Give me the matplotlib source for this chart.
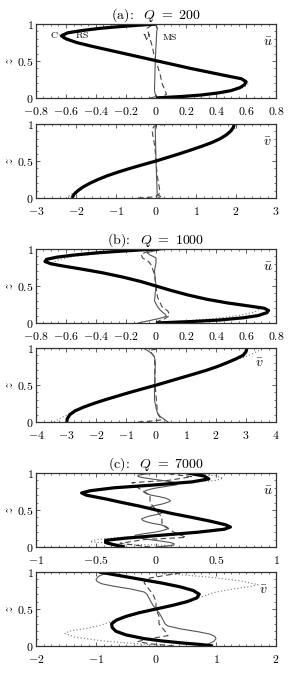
import matplotlib
matplotlib.use("Agg")
import matplotlib.pyplot as plt
from matplotlib.ticker import MultipleLocator, FuncFormatter

plt.rcParams['mathtext.fontset'] = 'cm'
plt.rcParams['font.family'] = ['DejaVu Serif']

# ---------------- Panel (a): Q = 200 ----------------
a_u_C_z = [0.00, 0.01, 0.02, 0.04, 0.07, 0.10, 0.14, 0.18, 0.22, 0.26, 0.30, 0.35, 0.40, 0.45, 0.50,
           0.55, 0.60, 0.65, 0.70, 0.75, 0.80, 0.84, 0.88, 0.91, 0.94, 0.96, 0.98, 1.00]
a_u_C = [0.00, 0.08, 0.17, 0.30, 0.42, 0.50, 0.56, 0.59, 0.60, 0.57, 0.47, 0.35, 0.23, 0.12, 0.01,
         -0.10, -0.21, -0.32, -0.43, -0.53, -0.60, -0.63, -0.59, -0.50, -0.38, -0.27, -0.14, 0.00]
a_u_RS_z = [0.00, 0.02, 0.05, 0.10, 0.15, 0.20, 0.25, 0.30, 0.40, 0.50, 0.60, 0.70, 0.75, 0.80,
            0.85, 0.90, 0.95, 1.00]
a_u_RS = [0.00, 0.15, 0.38, 0.52, 0.59, 0.62, 0.59, 0.48, 0.24, 0.01, -0.21, -0.44, -0.54, -0.62,
          -0.65, -0.58, -0.33, 0.00]
a_u_V_z = [0.00, 0.02, 0.05, 0.10, 0.20, 0.30, 0.40, 0.50, 0.60, 0.70, 0.80, 0.88, 0.94, 0.97, 1.00]
a_u_V = [0.00, 0.04, 0.07, 0.06, 0.04, 0.03, 0.015, 0.00, -0.015, -0.025, -0.04, -0.05, -0.06, -0.04, 0.00]
a_u_MS_z = [0.00, 0.02, 0.05, 0.10, 0.50, 0.90, 0.95, 0.98, 1.00]
a_u_MS = [-0.04, 0.00, -0.005, -0.01, -0.005, 0.005, 0.01, 0.00, -0.05]

a_v_C_z = [0.00, 0.05, 0.10, 0.15, 0.20, 0.25, 0.30, 0.35, 0.40, 0.45, 0.50,
           0.55, 0.60, 0.65, 0.70, 0.75, 0.80, 0.85, 0.90, 0.95, 1.00]
a_v_C = [-2.10, -2.05, -1.95, -1.82, -1.65, -1.45, -1.22, -0.95, -0.65, -0.33, 0.00,
         0.30, 0.60, 0.88, 1.15, 1.40, 1.60, 1.75, 1.86, 1.93, 1.96]
a_v_RS_z = [0.00, 0.05, 0.10, 0.20, 0.30, 0.50, 0.70, 0.80, 0.90, 0.95, 1.00]
a_v_RS = [-2.25, -2.12, -1.97, -1.66, -1.22, 0.00, 1.15, 1.61, 1.90, 1.99, 2.05]
a_v_V_z = [0.00, 0.01, 0.03, 0.08, 0.15, 0.30, 0.50, 0.70, 0.85, 0.92, 0.97, 0.99, 1.00]
a_v_V = [-0.45, -0.15, 0.05, 0.10, 0.08, 0.03, 0.00, -0.03, -0.08, -0.10, -0.05, 0.15, 0.50]
a_v_MS_z = [0.00, 0.02, 0.05, 0.50, 0.97, 1.00]
a_v_MS = [0.05, 0.12, 0.03, 0.00, -0.02, 0.00]

# ---------------- Panel (b): Q = 1000 ----------------
b_u_C_z = [0.00, 0.01, 0.02, 0.04, 0.07, 0.10, 0.14, 0.17, 0.20, 0.23, 0.27, 0.32, 0.38, 0.44, 0.50,
           0.56, 0.62, 0.68, 0.73, 0.77, 0.80, 0.83, 0.86, 0.89, 0.92, 0.95, 0.97, 0.99, 1.00]
b_u_C = [0.00, 0.12, 0.24, 0.42, 0.58, 0.68, 0.74, 0.75, 0.72, 0.62, 0.48, 0.34, 0.21, 0.10, 0.00,
         -0.10, -0.22, -0.36, -0.50, -0.62, -0.70, -0.74, -0.73, -0.66, -0.54, -0.38, -0.24, -0.08, 0.02]
b_u_RS_z = [0.00, 0.03, 0.06, 0.10, 0.15, 0.19, 0.23, 0.28, 0.35, 0.42, 0.50, 0.58, 0.65, 0.72,
            0.77, 0.81, 0.85, 0.90, 0.94, 0.97, 1.00]
b_u_RS = [0.00, 0.20, 0.38, 0.55, 0.66, 0.69, 0.62, 0.47, 0.28, 0.13, 0.00, -0.13, -0.28, -0.47,
          -0.62, -0.69, -0.66, -0.55, -0.38, -0.20, 0.00]
b_u_V_z = [0.00, 0.03, 0.06, 0.10, 0.16, 0.22, 0.35, 0.50, 0.65, 0.78, 0.83, 0.88, 0.93, 0.97, 1.00]
b_u_V = [0.00, 0.02, 0.06, 0.09, 0.08, 0.04, 0.01, 0.00, -0.01, -0.03, -0.05, -0.09, -0.10, -0.05, 0.00]
b_u_MS_z = [0.00, 0.03, 0.06, 0.09, 0.12, 0.17, 0.22, 0.30, 0.50, 0.70, 0.82, 0.88, 0.92, 0.95, 0.98, 1.00]
b_u_MS = [-0.12, -0.05, 0.02, 0.07, 0.06, 0.03, 0.01, -0.01, 0.00, -0.01, 0.00, 0.00, -0.04, -0.06, 0.00, 0.08]

b_v_C_z = [0.00, 0.05, 0.10, 0.15, 0.20, 0.25, 0.30, 0.35, 0.40, 0.45, 0.50,
           0.55, 0.60, 0.65, 0.70, 0.75, 0.80, 0.85, 0.90, 0.95, 1.00]
b_v_C = [-2.98, -2.95, -2.87, -2.70, -2.42, -2.08, -1.70, -1.29, -0.87, -0.43, 0.02,
         0.44, 0.86, 1.28, 1.69, 2.05, 2.36, 2.65, 2.90, 3.00, 3.03]
b_v_RS_z = [0.00, 0.05, 0.10, 0.15, 0.20, 0.25, 0.50, 0.75, 0.85, 0.90, 0.95, 1.00]
b_v_RS = [-3.40, -3.20, -2.95, -2.72, -2.45, -2.08, 0.02, 2.05, 2.75, 3.10, 3.35, 3.60]
b_v_V_z = [0.00, 0.01, 0.03, 0.07, 0.12, 0.50, 0.88, 0.93, 0.97, 0.99, 1.00]
b_v_V = [-0.60, -0.20, 0.20, 0.12, 0.05, -0.03, -0.05, -0.15, -0.20, 0.10, 0.50]
b_v_MS_z = [0.00, 0.03, 0.07, 0.12, 0.20, 0.30, 0.50, 0.60, 0.80, 0.88, 0.93, 0.97, 1.00]
b_v_MS = [0.40, 0.30, 0.15, 0.05, 0.00, -0.05, -0.05, -0.04, -0.02, -0.05, -0.15, -0.30, -0.45]

# ---------------- Panel (c): Q = 7000 ----------------
c_u_C_z = [0.00, 0.03, 0.06, 0.09, 0.12, 0.16, 0.20, 0.24, 0.27, 0.30, 0.35, 0.40, 0.45, 0.50,
           0.55, 0.60, 0.65, 0.70, 0.73, 0.76, 0.80, 0.84, 0.88, 0.92, 0.96, 1.00]
c_u_C = [-0.26, -0.35, -0.42, -0.42, -0.25, 0.05, 0.35, 0.57, 0.62, 0.58, 0.45, 0.30, 0.14, 0.00,
         -0.13, -0.28, -0.42, -0.58, -0.62, -0.55, -0.35, 0.00, 0.30, 0.44, 0.40, 0.26]
c_u_RS_z = [0.00, 0.02, 0.04, 0.07, 0.10, 0.13, 0.16, 0.20, 0.27, 0.35, 0.50, 0.65, 0.73, 0.80,
            0.84, 0.87, 0.90, 0.93, 0.96, 1.00]
c_u_RS = [0.00, 0.15, -0.30, -0.55, -0.50, -0.30, 0.00, 0.33, 0.62, 0.45, 0.00, -0.42, -0.62, -0.35,
          0.00, 0.30, 0.50, 0.56, 0.50, 0.30]
c_u_V_z = [0.00, 0.05, 0.10, 0.13, 0.20, 0.30, 0.40, 0.50, 0.60, 0.70, 0.80, 0.87, 0.90, 0.95, 1.00]
c_u_V = [-0.05, -0.30, -0.10, 0.25, 0.15, 0.05, 0.05, 0.00, -0.05, -0.05, -0.15, -0.20, 0.10, 0.30, 0.05]
c_u_MS_z = [0.00, 0.015, 0.03, 0.045, 0.06, 0.08, 0.10, 0.12, 0.14, 0.16, 0.18, 0.20, 0.22, 0.24,
            0.26, 0.28, 0.30, 0.32, 0.34, 0.36, 0.38, 0.40, 0.42, 0.44, 0.46, 0.48, 0.50,
            0.52, 0.54, 0.56, 0.58, 0.60, 0.62, 0.64, 0.66, 0.68, 0.70, 0.72, 0.74, 0.76,
            0.78, 0.80, 0.82, 0.84, 0.86, 0.88, 0.90, 0.92, 0.94, 0.955, 0.97, 0.985, 1.00]
c_u_MS = [0.00, 0.10, 0.15, 0.15, 0.12, 0.04, -0.05, -0.13, -0.18, -0.17, -0.10, -0.01, 0.05, 0.09,
          0.10, 0.08, 0.04, -0.03, -0.08, -0.11, -0.12, -0.09, -0.05, 0.01, 0.05, 0.04, 0.00,
          -0.04, -0.05, -0.01, 0.05, 0.09, 0.12, 0.11, 0.08, 0.03, -0.04, -0.08, -0.10, -0.09,
          -0.05, 0.01, 0.09, 0.17, 0.18, 0.13, 0.05, -0.04, -0.12, -0.15, -0.15, -0.10, 0.00]

c_v_C_z = [0.00, 0.02, 0.04, 0.07, 0.10, 0.15, 0.20, 0.25, 0.30, 0.35, 0.40, 0.45, 0.50,
           0.55, 0.60, 0.65, 0.70, 0.75, 0.80, 0.85, 0.90, 0.95, 1.00]
c_v_C = [0.95, 0.75, 0.45, 0.08, -0.20, -0.50, -0.67, -0.73, -0.74, -0.66, -0.50, -0.28, 0.00,
         0.28, 0.52, 0.68, 0.72, 0.62, 0.40, 0.10, -0.25, -0.60, -0.95]
c_v_RS_z = [0.00, 0.03, 0.07, 0.12, 0.17, 0.20, 0.24, 0.28, 0.34, 0.40, 0.50, 0.60, 0.66, 0.72,
            0.76, 0.80, 0.83, 0.88, 0.93, 0.97, 1.00]
c_v_RS = [0.20, -0.30, -0.90, -1.35, -1.52, -1.45, -1.15, -0.92, -0.72, -0.55, 0.00, 0.55, 0.75, 0.95,
          1.20, 1.55, 1.70, 1.40, 0.90, 0.30, -0.20]
c_v_V_z = [0.00, 0.03, 0.06, 0.10, 0.14, 0.20, 0.30, 0.40, 0.50, 0.60, 0.70, 0.80, 0.86, 0.92, 0.96, 1.00]
c_v_V = [0.30, -0.10, -0.30, -0.10, 0.20, 0.15, 0.05, 0.05, 0.00, 0.00, -0.05, -0.15, -0.20, -0.10, 0.20, 0.50]
c_v_MS_z = [0.00, 0.03, 0.06, 0.10, 0.13, 0.16, 0.19, 0.23, 0.27, 0.30, 0.38, 0.45, 0.50, 0.55, 0.62, 0.70,
            0.73, 0.77, 0.81, 0.84, 0.87, 0.90, 0.94, 0.97, 1.00]
c_v_MS = [0.75, 0.88, 0.96, 1.00, 0.98, 0.90, 0.72, 0.42, 0.20, 0.15, 0.10, 0.05, 0.00, -0.05, -0.10, -0.15,
          -0.20, -0.42, -0.72, -0.90, -0.98, -1.00, -0.96, -0.88, -0.75]

titles = [r'$\mathrm{(a)\!:}\ \ Q\ =\ 200$', r'$\mathrm{(b)\!:}\ \ Q\ =\ 1000$',
          r'$\mathrm{(c)\!:}\ \ Q\ =\ 7000$']

panels = [
    dict(C=(a_u_C, a_u_C_z), RS=(a_u_RS, a_u_RS_z), V=(a_u_V, a_u_V_z), MS=(a_u_MS, a_u_MS_z),
         xlim=(-0.8, 0.8), major=0.2, minor=0.05, lab=r'$\bar{u}$', lpos=(0.965, 0.76), title=titles[0]),
    dict(C=(a_v_C, a_v_C_z), RS=(a_v_RS, a_v_RS_z), V=(a_v_V, a_v_V_z), MS=(a_v_MS, a_v_MS_z),
         xlim=(-3, 3), major=1, minor=0.2, lab=r'$\bar{v}$', lpos=(0.965, 0.76), title=None),
    dict(C=(b_u_C, b_u_C_z), RS=(b_u_RS, b_u_RS_z), V=(b_u_V, b_u_V_z), MS=(b_u_MS, b_u_MS_z),
         xlim=(-0.8, 0.8), major=0.2, minor=0.05, lab=r'$\bar{u}$', lpos=(0.965, 0.76), title=titles[1]),
    dict(C=(b_v_C, b_v_C_z), RS=(b_v_RS, b_v_RS_z), V=(b_v_V, b_v_V_z), MS=(b_v_MS, b_v_MS_z),
         xlim=(-4, 4), major=1, minor=0.25, lab=r'$\bar{v}$', lpos=(0.93, 0.8), title=None),
    dict(C=(c_u_C, c_u_C_z), RS=(c_u_RS, c_u_RS_z), V=(c_u_V, c_u_V_z), MS=(c_u_MS, c_u_MS_z),
         xlim=(-1, 1), major=0.5, minor=0.0625, lab=r'$\bar{u}$', lpos=(0.965, 0.76), title=titles[2]),
    dict(C=(c_v_C, c_v_C_z), RS=(c_v_RS, c_v_RS_z), V=(c_v_V, c_v_V_z), MS=(c_v_MS, c_v_MS_z),
         xlim=(-2, 2), major=1, minor=0.125, lab=r'$\bar{v}$', lpos=(0.946, 0.76), title=None),
]

W, H = 299, 675
fig = plt.figure(figsize=(W / 100, H / 100), dpi=100)
tops = [24, 124, 249, 348, 473, 572]
ax_h = 74
left, width = 36, 240


def fmt(x, pos):
    return '$' + f'{x:g}' + '$'


for p, top in zip(panels, tops):
    ax = fig.add_axes([left / W, 1 - (top + ax_h) / H, width / W, ax_h / H])
    ax.plot(p['RS'][0], p['RS'][1], color='#777777', lw=0.8, ls=(0, (1, 2)))
    ax.plot(p['V'][0], p['V'][1], color='#444444', lw=0.8, ls=(0, (5, 3)))
    ax.plot(p['MS'][0], p['MS'][1], color='#555555', lw=0.8)
    ax.plot(p['C'][0], p['C'][1], color='black', lw=2.3, solid_capstyle='butt')
    ax.set_xlim(*p['xlim'])
    ax.set_ylim(0, 1)
    ax.xaxis.set_major_locator(MultipleLocator(p['major']))
    ax.xaxis.set_minor_locator(MultipleLocator(p['minor']))
    ax.yaxis.set_major_locator(MultipleLocator(0.5))
    ax.yaxis.set_minor_locator(MultipleLocator(0.1))
    ax.xaxis.set_major_formatter(FuncFormatter(fmt))
    ax.yaxis.set_major_formatter(FuncFormatter(fmt))
    ax.tick_params(which='both', direction='in', top=True, right=True, labelsize=8.5,
                   color='#444444')
    ax.tick_params(axis='x', pad=5)
    ax.tick_params(axis='y', pad=1.5)
    ax.tick_params(which='major', length=3, width=0.6)
    ax.tick_params(which='minor', length=1.5, width=0.5)
    for lbl in ax.get_yticklabels():
        lbl.set_va('center_baseline')
    for s in ax.spines.values():
        s.set_linewidth(0.9)
        s.set_color('#333333')
    ax.set_ylabel(r'$z$', fontsize=9, labelpad=1)
    ax.text(p['lpos'][0], p['lpos'][1], p['lab'], transform=ax.transAxes, fontsize=10,
            ha='center', va='center')
    if p['title']:
        ax.set_title(p['title'], fontsize=10, pad=3)
    if top == 24:
        ax.text(-0.71, 0.85, r'$\mathrm{C}$', fontsize=7, ha='left', va='center')
        ax.text(-0.54, 0.85, r'$\mathrm{RS}$', fontsize=7, ha='left', va='center')
        ax.text(-0.09, 0.82, r'$\mathrm{V}$', fontsize=7, ha='left', va='center')
        ax.text(0.04, 0.82, r'$\mathrm{MS}$', fontsize=7, ha='left', va='center')

fig.savefig('out.png', dpi=100)
